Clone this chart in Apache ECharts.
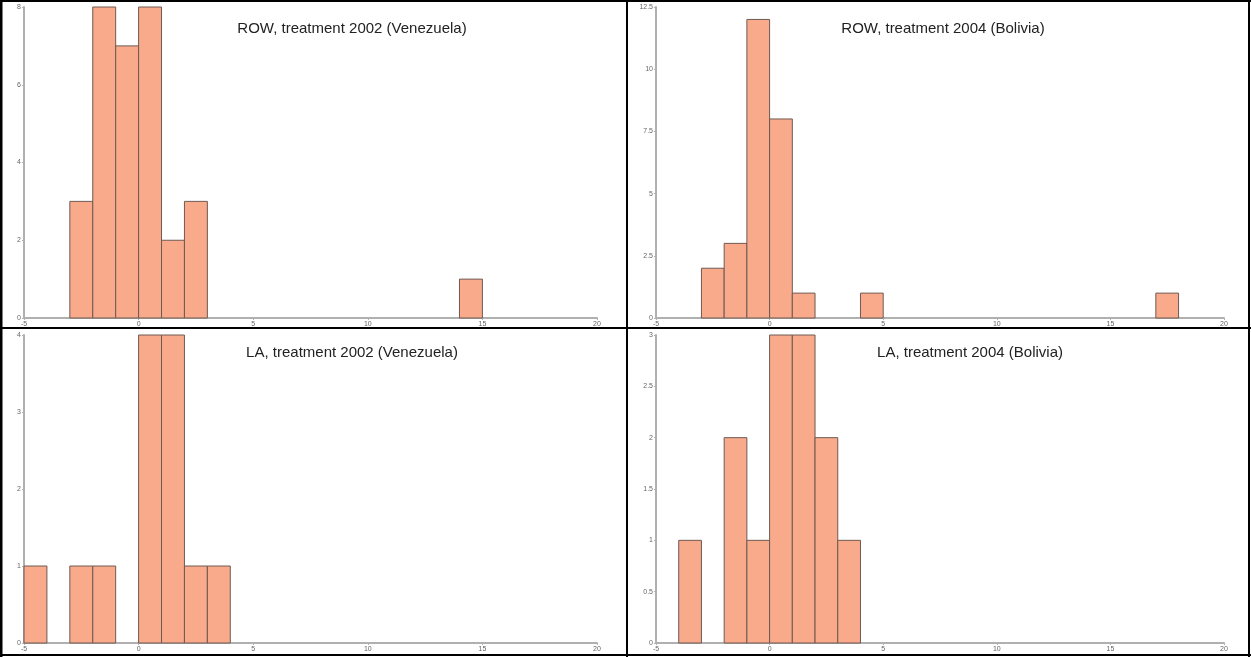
<!DOCTYPE html>
<html>
<head>
<meta charset="utf-8">
<title>Histograms</title>
<script src="https://cdn.jsdelivr.net/npm/echarts@6/dist/echarts.min.js"></script>
<style>
  html, body { margin: 0; padding: 0; background: #fff; }
  #chart { width: 1251px; height: 657px; }
</style>
</head>
<body>
<div id="chart"></div>
<script>
// Panel titles
const titles = [
  'ROW, treatment 2002 (Venezuela)',
  'ROW, treatment 2004 (Bolivia)',
  'LA, treatment 2002 (Venezuela)',
  'LA, treatment 2004 (Bolivia)'
];

// Histogram bins: [bin start, count], each bin is one unit wide
const binWidth = 1;
const rowVenezuela = [[-3, 3], [-2, 8], [-1, 7], [0, 8], [1, 2], [2, 3], [14, 1]];
const rowBolivia   = [[-3, 2], [-2, 3], [-1, 12], [0, 8], [1, 1], [4, 1], [17, 1]];
const laVenezuela  = [[-5, 1], [-3, 1], [-2, 1], [0, 4], [1, 4], [2, 1], [3, 1]];
const laBolivia    = [[-4, 1], [-2, 2], [-1, 1], [0, 3], [1, 3], [2, 2], [3, 1]];
const panelData = [rowVenezuela, rowBolivia, laVenezuela, laBolivia];

// Axis ranges
const xMin = -5, xMax = 20, xStep = 5;
const yMax = [8, 12.5, 4, 3];
const yStep = [2, 2.5, 1, 0.5];

// Panel placement (pixels)
const grids = [
  { left: 24,  top: 7,   width: 573, height: 311 },
  { left: 656, top: 7,   width: 568, height: 311 },
  { left: 24,  top: 335, width: 573, height: 308 },
  { left: 656, top: 335, width: 568, height: 308 }
];
const titlePos = [
  { x: 352, y: 21 },
  { x: 943, y: 21 },
  { x: 352, y: 345 },
  { x: 970, y: 345 }
];

const axisGray = '#b0b0b0';
const labelStyle = { fontSize: 7, color: '#666', fontFamily: 'Liberation Sans, Arial, sans-serif' };

const xAxes = grids.map((g, i) => ({
  type: 'value', gridIndex: i, min: xMin, max: xMax, interval: xStep,
  axisLine: { show: true, onZero: false, lineStyle: { color: axisGray, width: 2 } },
  axisTick: { show: true, length: 2, lineStyle: { color: axisGray } },
  axisLabel: Object.assign({ margin: 3 }, labelStyle),
  splitLine: { show: false }
}));

const yAxes = grids.map((g, i) => ({
  type: 'value', gridIndex: i, min: 0, max: yMax[i], interval: yStep[i],
  axisLine: { show: true, onZero: false, lineStyle: { color: axisGray, width: 2 } },
  axisTick: { show: true, length: 2, lineStyle: { color: axisGray } },
  axisLabel: Object.assign({ margin: 3 }, labelStyle),
  splitLine: { show: false }
}));

const series = panelData.map((data, i) => ({
  type: 'custom', xAxisIndex: i, yAxisIndex: i,
  data: data,
  renderItem: function (params, api) {
    const x0 = api.value(0);
    const c = api.value(1);
    const p0 = api.coord([x0, 0]);
    const p1 = api.coord([x0 + binWidth, c]);
    return {
      type: 'rect',
      shape: { x: p0[0], y: p1[1], width: p1[0] - p0[0], height: p0[1] - p1[1] },
      style: { fill: '#F9AA8B', stroke: '#6e5a52', lineWidth: 1 }
    };
  },
  encode: { x: 0, y: 1 }
}));

// Table borders separating the four panels
const borderColor = '#000';
const borders = [
  { x1: 1, y1: 0, x2: 1, y2: 657, w: 3 },
  { x1: 0, y1: 1, x2: 1251, y2: 1, w: 2 },
  { x1: 1249, y1: 0, x2: 1249, y2: 657, w: 2 },
  { x1: 0, y1: 655, x2: 1251, y2: 655, w: 2 },
  { x1: 627, y1: 0, x2: 627, y2: 657, w: 2 },
  { x1: 0, y1: 328, x2: 1251, y2: 328, w: 2 }
].map(b => ({
  type: 'line',
  shape: { x1: b.x1, y1: b.y1, x2: b.x2, y2: b.y2 },
  style: { stroke: borderColor, lineWidth: b.w },
  z: 100
}));

const titleText = titles.map((t, i) => ({
  type: 'text',
  x: titlePos[i].x, y: titlePos[i].y,
  style: {
    text: t, fill: '#222', fontSize: 15,
    fontFamily: 'Liberation Sans, Arial, sans-serif',
    align: 'center', verticalAlign: 'top'
  },
  z: 50
}));

const chart = echarts.init(document.getElementById('chart'), null, { renderer: 'canvas' });
chart.setOption({
  animation: false,
  backgroundColor: '#fff',
  grid: grids.map(g => Object.assign({ containLabel: false }, g)),
  xAxis: xAxes,
  yAxis: yAxes,
  series: series,
  graphic: { elements: borders.concat(titleText) }
});
</script>
</body>
</html>
